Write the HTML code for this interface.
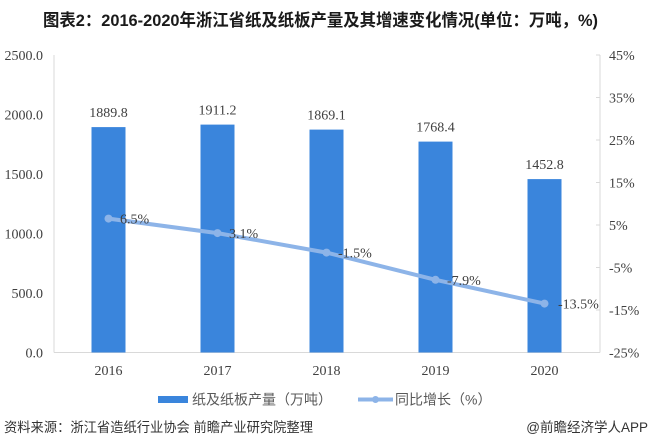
<!DOCTYPE html>
<html>
<head>
<meta charset="utf-8">
<style>
html,body{margin:0;padding:0;background:#fff;}
svg{display:block;}
.ax{font-family:"Liberation Serif","Noto Serif CJK SC",serif;font-size:14px;fill:#404040;}
.cj{font-family:"Liberation Sans","Noto Sans CJK SC",sans-serif;}
</style>
</head>
<body>
<svg width="652" height="442" viewBox="0 0 652 442" xmlns="http://www.w3.org/2000/svg">
  <rect width="652" height="442" fill="#fff"/>
  <!-- Title -->
  <text x="43" y="26" class="cj" font-size="17" font-weight="bold" fill="#1a1a1a" textLength="555" lengthAdjust="spacingAndGlyphs">图表2：2016-2020年浙江省纸及纸板产量及其增速变化情况(单位：万吨，%)</text>

  <!-- axes -->
  <line x1="54" y1="55" x2="54" y2="352.5" stroke="#d9d9d9" stroke-width="1"/>
  <line x1="54" y1="352.5" x2="600" y2="352.5" stroke="#d9d9d9" stroke-width="1"/>
  <line x1="600" y1="55" x2="600" y2="352.5" stroke="#d9d9d9" stroke-width="1"/>
  <g stroke="#d9d9d9" stroke-width="1">
    <line x1="596" y1="55" x2="600" y2="55"/>
    <line x1="596" y1="97.5" x2="600" y2="97.5"/>
    <line x1="596" y1="140" x2="600" y2="140"/>
    <line x1="596" y1="182.5" x2="600" y2="182.5"/>
    <line x1="596" y1="225" x2="600" y2="225"/>
    <line x1="596" y1="267.5" x2="600" y2="267.5"/>
    <line x1="596" y1="310" x2="600" y2="310"/>
    <line x1="596" y1="352.5" x2="600" y2="352.5"/>
  </g>

  <!-- left axis labels -->
  <g class="ax" text-anchor="end">
    <text x="43" y="60">2500.0</text>
    <text x="43" y="119.5">2000.0</text>
    <text x="43" y="179">1500.0</text>
    <text x="43" y="238.5">1000.0</text>
    <text x="43" y="298">500.0</text>
    <text x="43" y="357.5">0.0</text>
  </g>
  <!-- right axis labels -->
  <g class="ax">
    <text x="609" y="60">45%</text>
    <text x="609" y="102.5">35%</text>
    <text x="609" y="145">25%</text>
    <text x="609" y="187.5">15%</text>
    <text x="609" y="230">5%</text>
    <text x="609" y="272.5">-5%</text>
    <text x="609" y="315">-15%</text>
    <text x="609" y="357.5">-25%</text>
  </g>

  <!-- bars -->
  <g fill="#3a85dc">
    <rect x="91.5" y="127.1" width="34" height="225.4"/>
    <rect x="200.5" y="124.6" width="34" height="227.9"/>
    <rect x="309.5" y="129.6" width="34" height="222.9"/>
    <rect x="418.5" y="141.6" width="34" height="210.9"/>
    <rect x="527.5" y="179.1" width="34" height="173.4"/>
  </g>
  <!-- bar labels -->
  <g class="ax" text-anchor="middle">
    <text x="108.5" y="117">1889.8</text>
    <text x="217.5" y="114.5">1911.2</text>
    <text x="326.5" y="119.5">1869.1</text>
    <text x="435.5" y="131.5">1768.4</text>
    <text x="544.5" y="169">1452.8</text>
  </g>

  <!-- line series -->
  <polyline points="108.5,218.6 217.5,233.1 326.5,252.6 435.5,279.8 544.5,303.6" fill="none" stroke="#8db4e8" stroke-width="4" stroke-linejoin="round" stroke-linecap="round"/>
  <g fill="#8db4e8">
    <circle cx="108.5" cy="218.6" r="4"/>
    <circle cx="217.5" cy="233.1" r="4"/>
    <circle cx="326.5" cy="252.6" r="4"/>
    <circle cx="435.5" cy="279.8" r="4"/>
    <circle cx="544.5" cy="303.6" r="4"/>
  </g>
  <g class="ax">
    <text x="120" y="223.6">6.5%</text>
    <text x="229" y="238.1">3.1%</text>
    <text x="338" y="257.6">-1.5%</text>
    <text x="447" y="284.8">-7.9%</text>
    <text x="558" y="308.6">-13.5%</text>
  </g>

  <!-- category labels -->
  <g class="ax" text-anchor="middle">
    <text x="108.5" y="375">2016</text>
    <text x="217.5" y="375">2017</text>
    <text x="326.5" y="375">2018</text>
    <text x="435.5" y="375">2019</text>
    <text x="544.5" y="375">2020</text>
  </g>

  <!-- legend -->
  <rect x="158" y="396" width="30" height="7" fill="#3a85dc"/>
  <text x="192" y="404.5" class="cj" font-size="14" fill="#595959">纸及纸板产量（万吨）</text>
  <line x1="358" y1="399.5" x2="393" y2="399.5" stroke="#8db4e8" stroke-width="4"/>
  <circle cx="375.5" cy="399.5" r="3.5" fill="#8db4e8"/>
  <text x="395" y="404.5" class="cj" font-size="14" fill="#595959">同比增长（%）</text>

  <!-- footer -->
  <text x="4" y="432" class="cj" font-size="13.5" fill="#333" textLength="309" lengthAdjust="spacingAndGlyphs">资料来源：浙江省造纸行业协会 前瞻产业研究院整理</text>
  <text x="648" y="432" class="cj" font-size="13.5" fill="#333" text-anchor="end">@前瞻经济学人APP</text>
</svg>
</body>
</html>
